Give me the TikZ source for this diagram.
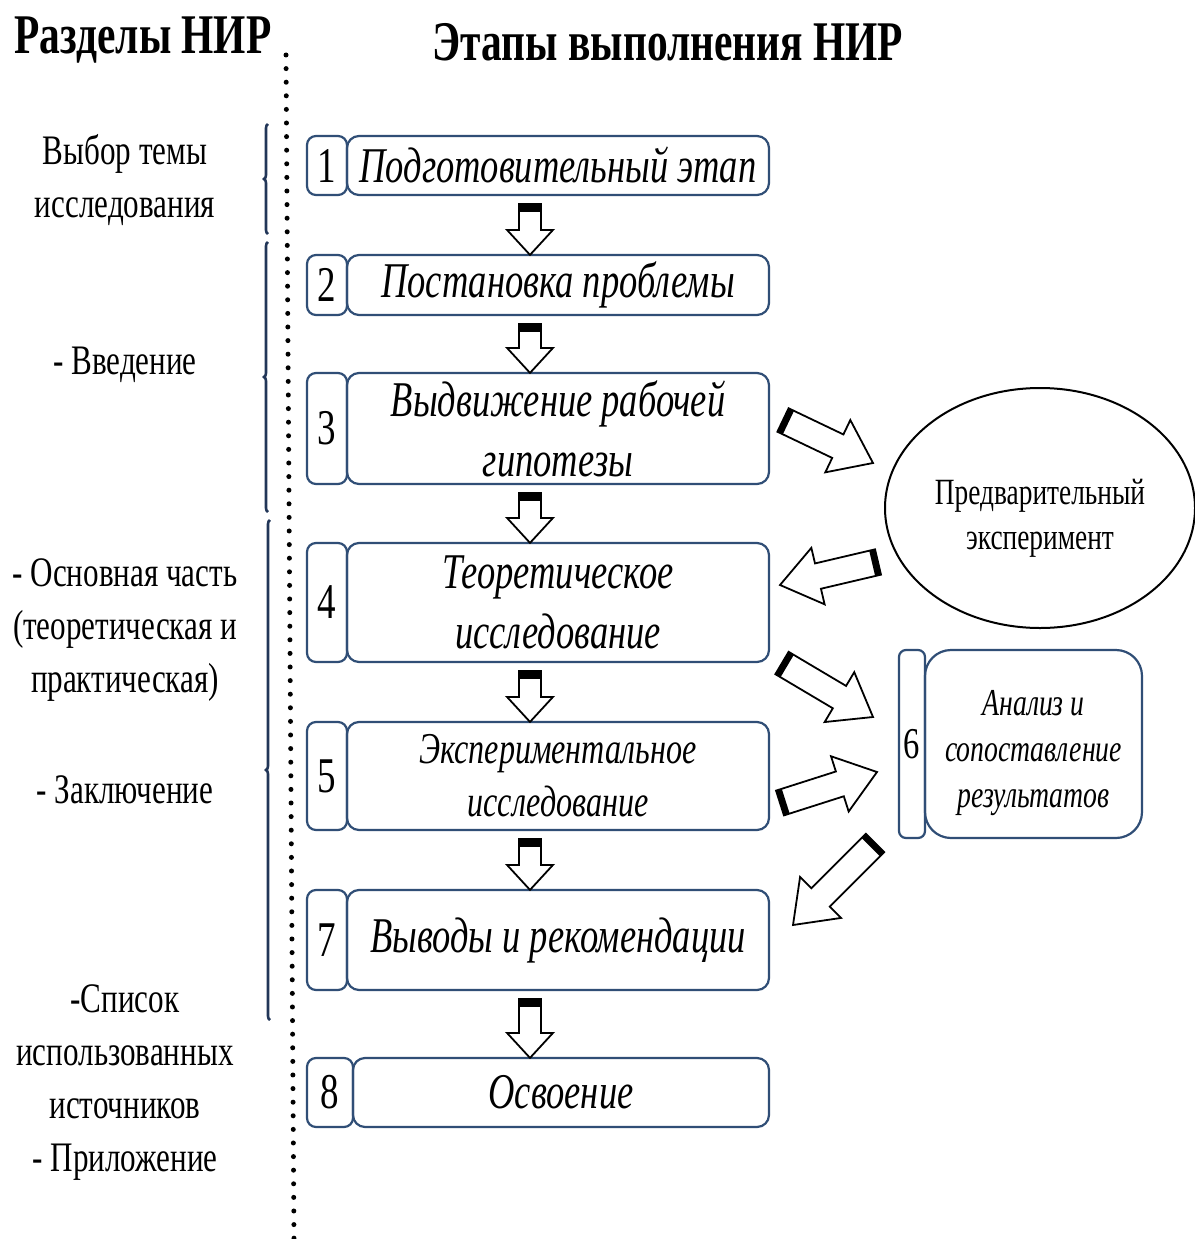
\documentclass[tikz,border=0pt]{standalone}
\usepackage{fontspec}
\usetikzlibrary{shapes.geometric,calc,decorations.pathreplacing}
\newfontfamily\rmc{Liberation Serif}[FakeStretch=0.74]
\newfontfamily\itc{Liberation Serif}[FakeStretch=0.73]
\definecolor{boxblue}{RGB}{48,78,118}
\definecolor{bracecol}{RGB}{34,54,88}
\newdimen\badx
\newdimen\bady
\newcommand\blockarrow[6]{%
  \pgfextractx{\badx}{\pgfpointdiff{\pgfpointanchor{#1}{center}}{\pgfpointanchor{#2}{center}}}%
  \pgfextracty{\bady}{\pgfpointdiff{\pgfpointanchor{#1}{center}}{\pgfpointanchor{#2}{center}}}%
  \pgfmathsetmacro\baang{atan2(\the\bady,\the\badx)}%
  \pgfmathsetmacro\balen{veclen(\the\badx,\the\bady)}%
  \pgfmathsetmacro\babase{\balen-#5}%
  \begin{scope}[shift={(#1)},rotate=\baang]
    \draw[blockarr] (0pt,#3pt) -- (\babase pt,#3pt) -- (\babase pt,#4pt) -- (\balen pt,0pt)
      -- (\babase pt,-#4pt) -- (\babase pt,-#3pt) -- (0pt,-#3pt) -- cycle;
    \fill (0pt,-#3pt) rectangle (#6pt,#3pt);
  \end{scope}}
\begin{document}
\begin{tikzpicture}[x=1pt,y=-1pt,
  numbox/.style={draw=boxblue, line width=2.2pt, rounded corners=9pt, inner sep=0pt,
    font=\rmc\fontsize{50}{50}\selectfont},
  mainbox/.style={draw=boxblue, line width=2.2pt, rounded corners=12pt, inner sep=0pt,
    align=center, font=\itc\itshape\fontsize{50}{60}\selectfont},
  lefttext/.style={align=center, inner sep=0pt, font=\rmc\fontsize{42}{53}\selectfont},
  titletext/.style={inner sep=0pt, font=\rmc\bfseries\fontsize{56}{60}\selectfont},
  blockarr/.style={draw=black, fill=white, line width=1.8pt, line join=miter},
  bracestyle/.style={draw=bracecol, line width=2.6pt, decorate,
    decoration={brace, amplitude=4pt, aspect=0.5}},
]
\useasboundingbox (0,0) rectangle (1194,1239);
\fill[white] (0,0) rectangle (1194,1239);

% titles
\node[titletext] (t1) at (143,40) {Разделы НИР};
\node[titletext] (t2) at (668,42) {Этапы выполнения НИР};

% dotted separator
\coordinate (dtop) at (286,55);
\coordinate (dbot) at (294,1239);
\draw[line width=5pt, line cap=round, dash pattern=on 0pt off 13.6pt] (dtop) -- (dbot);

% braces
\coordinate (br1a) at (268,234); \coordinate (br1b) at (268,124);
\coordinate (br2a) at (268,512); \coordinate (br2b) at (268,242);
\coordinate (br3a) at (270,1020); \coordinate (br3b) at (270,520);
\draw[bracestyle] (br1a) -- (br1b);
\draw[bracestyle] (br2a) -- (br2b);
\draw[bracestyle] (br3a) -- (br3b);

% left texts
\node[lefttext] (l1) at (125,180) {Выбор темы\\исследования};
\node[lefttext] (l2) at (125,365) {- Введение};
\node[lefttext] (l3) at (125,630) {- Основная часть\\(теоретическая и\\практическая)};
\node[lefttext] (l4) at (125,790) {- Заключение};
\node[lefttext] (l5) at (125,1083) {-Список\\использованных\\источников\\- Приложение};

% stage boxes
\node[numbox, minimum width=40pt, minimum height=59pt] (n1) at (327,165.5) {1};
\node[mainbox, minimum width=422pt, minimum height=59pt] (b1) at (558,165.5) {Подготовительный этап};
\node[numbox, minimum width=40pt, minimum height=60pt] (n2) at (327,285) {2};
\node[mainbox, minimum width=422pt, minimum height=60pt] (b2) at (558,285) {Постановка проблемы};
\node[numbox, minimum width=40pt, minimum height=111pt] (n3) at (327,428.5) {3};
\node[mainbox, minimum width=422pt, minimum height=111pt] (b3) at (558,428.5) {Выдвижение рабочей\\гипотезы};
\node[numbox, minimum width=40pt, minimum height=119pt] (n4) at (327,602.5) {4};
\node[mainbox, minimum width=422pt, minimum height=119pt] (b4) at (558,602.5) {Теоретическое\\исследование};
\node[numbox, minimum width=40pt, minimum height=108pt] (n5) at (327,776) {5};
\node[mainbox, minimum width=422pt, minimum height=108pt,
  font=\itc\itshape\fontsize{44}{53}\selectfont] (b5) at (558,776) {Экспериментальное\\исследование};
\node[numbox, minimum width=40pt, minimum height=100pt] (n7) at (327,940) {7};
\node[mainbox, minimum width=422pt, minimum height=100pt] (b7) at (558,940) {Выводы и рекомендации};
\node[numbox, minimum width=46pt, minimum height=69pt] (n8) at (330,1092.5) {8};
\node[mainbox, minimum width=416pt, minimum height=69pt] (b8) at (561,1092.5) {Освоение};

% analysis box 6
\node[numbox, minimum width=26pt, minimum height=188pt, rounded corners=7pt,
  font=\rmc\fontsize{44}{44}\selectfont] (n6) at (912,744) {6};
\node[mainbox, minimum width=217pt, minimum height=188pt, rounded corners=26pt,
  font=\itc\itshape\fontsize{38}{46}\selectfont] (b6) at (1033.5,744)
  {\rule{0pt}{43pt}Анализ и\\сопоставление\\результатов};

% ellipse
\node[ellipse, draw=black, line width=2pt, minimum width=310pt, minimum height=240pt, inner sep=0pt,
  align=center, font=\rmc\fontsize{37}{45}\selectfont] (ex) at (1040,508)
  {\rule{0pt}{46pt}Предварительный\\эксперимент};

% vertical down arrows
\coordinate (ax) at (530,0);
\foreach \a/\b/\i in {b1/b2/1, b2/b3/2, b3/b4/3, b4/b5/4, b5/b7/5, b7/b8/6}{
  \coordinate (d\i s) at ($(\a.south -| ax)+(0,8)$);
  \coordinate (d\i e) at ($(\b.north -| ax)+(0,1)$);
  \blockarrow{d\i s}{d\i e}{11}{23}{25}{8}
}

% diagonal arrows
\coordinate (pAs) at (783,420); \coordinate (pAe) at (873,463);
\coordinate (pBs) at (878,562); \coordinate (pBe) at (780,585);
\coordinate (pCs) at (782,663); \coordinate (pCe) at (873,717);
\coordinate (pDs) at (780,803); \coordinate (pDe) at (877,772);
\coordinate (pEs) at (875,843); \coordinate (pEe) at (793,925);
\blockarrow{pAs}{pAe}{13}{29}{39}{6}
\blockarrow{pBs}{pBe}{13}{29}{39}{6}
\blockarrow{pCs}{pCe}{13}{29}{39}{6}
\blockarrow{pDs}{pDe}{13}{29}{39}{6}
\blockarrow{pEs}{pEe}{13}{29}{39}{6}
\end{tikzpicture}
\end{document}
